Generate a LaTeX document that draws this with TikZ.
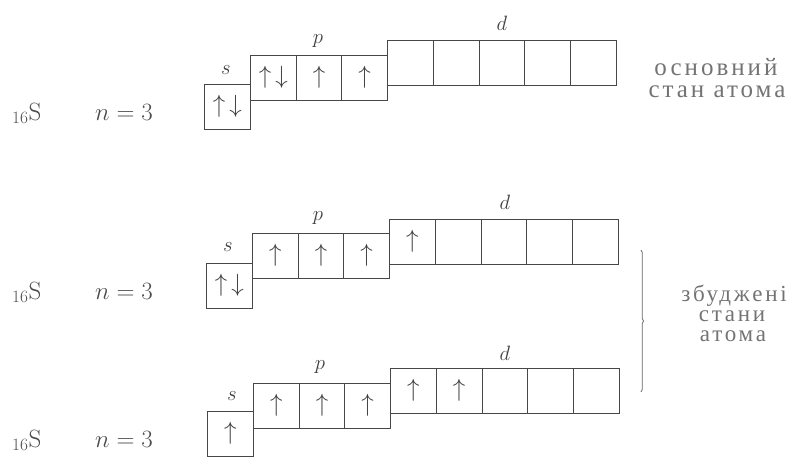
\documentclass[tikz,border=0pt]{standalone}
\usepackage{fontspec}
\newfontfamily\cyr[LetterSpace=12]{Liberation Serif}
\usetikzlibrary{decorations.pathreplacing}
\begin{document}
\begin{tikzpicture}[x=1pt,y=-1pt,
  orb/.style={draw=black!72, line width=0.85pt, minimum width=45.7pt, minimum height=44.5pt,
    inner sep=0pt, anchor=north west, text=black!75, font=\fontsize{26}{26}\selectfont},
  lab/.style={text=black!75, font=\fontsize{22}{22}\selectfont, inner sep=0pt},
  elem/.style={text=black!70, font=\fontsize{25}{25}\selectfont, inner sep=0pt, anchor=base west},
  cyrtext/.style={text=black!55, font=\cyr\fontsize{25}{25}\selectfont, inner sep=0pt, anchor=base,
    text height=13pt, text depth=4pt},
  cyrsmall/.style={cyrtext, font=\cyr\fontsize{23}{23}\selectfont},
  brc/.style={draw=black!60, line width=0.7pt, decorate, decoration={brace, amplitude=2.5pt}}
]
\useasboundingbox (0,0) rectangle (790,456);

% ---------- row 1: ground state ----------
\node[orb] (s1)  at (204,84)   {$\uparrow\,\downarrow$};
\node[orb] (p1a) at (250,55)   {$\uparrow\,\downarrow$};
\node[orb] (p1b) at (295.7,55) {$\uparrow$};
\node[orb] (p1c) at (341.4,55) {$\uparrow$};
\node[orb] (d1a) at (387.1,40) {};
\node[orb] (d1b) at (432.8,40) {};
\node[orb] (d1c) at (478.5,40) {};
\node[orb] (d1d) at (524.2,40) {};
\node[orb] (d1e) at (569.9,40) {};
\node[lab] (s1l) at (226,70) {$s$};
\node[lab] (p1l) at (318,41) {$p$};
\node[lab] (d1l) at (502,23) {$d$};
\node[elem] (e1) at (12,120) {${}_{16}\mathrm{S}$};
\node[elem] (n1) at (95,120) {$n=3$};
\node[cyrtext] (t1a) at (716,75) {основний};
\node[cyrtext] (t1b) at (717,97) {стан атома};

% ---------- row 2: excited state ----------
\node[orb] (s2)  at (206,263)  {$\uparrow\,\downarrow$};
\node[orb] (p2a) at (252,233)  {$\uparrow$};
\node[orb] (p2b) at (297.7,233) {$\uparrow$};
\node[orb] (p2c) at (343.4,233) {$\uparrow$};
\node[orb] (d2a) at (389.1,219) {$\uparrow$};
\node[orb] (d2b) at (434.8,219) {};
\node[orb] (d2c) at (480.5,219) {};
\node[orb] (d2d) at (526.2,219) {};
\node[orb] (d2e) at (571.9,219) {};
\node[lab] (s2l) at (228,247) {$s$};
\node[lab] (p2l) at (318,218) {$p$};
\node[lab] (d2l) at (505,202) {$d$};
\node[elem] (e2) at (12,299) {${}_{16}\mathrm{S}$};
\node[elem] (n2) at (95,299) {$n=3$};

% ---------- row 3: excited state ----------
\node[orb] (s3)  at (207,411)  {$\uparrow$};
\node[orb] (p3a) at (253,383)  {$\uparrow$};
\node[orb] (p3b) at (298.7,383) {$\uparrow$};
\node[orb] (p3c) at (344.4,383) {$\uparrow$};
\node[orb] (d3a) at (390.1,368) {$\uparrow$};
\node[orb] (d3b) at (435.8,368) {$\uparrow$};
\node[orb] (d3c) at (481.5,368) {};
\node[orb] (d3d) at (527.2,368) {};
\node[orb] (d3e) at (572.9,368) {};
\node[lab] (s3l) at (232,396) {$s$};
\node[lab] (p3l) at (320,367) {$p$};
\node[lab] (d3l) at (505,353) {$d$};
\node[elem] (e3) at (12,447) {${}_{16}\mathrm{S}$};
\node[elem] (n3) at (95,447) {$n=3$};

% ---------- brace and label ----------
\coordinate (bt) at (641,250);
\coordinate (bb) at (641,392);
\draw[brc] (bt) -- (bb);
\node[cyrsmall] (t2a) at (734,301) {збуджені};
\node[cyrsmall] (t2b) at (732,321) {стани};
\node[cyrsmall] (t2c) at (733,341) {атома};
\end{tikzpicture}
\end{document}
